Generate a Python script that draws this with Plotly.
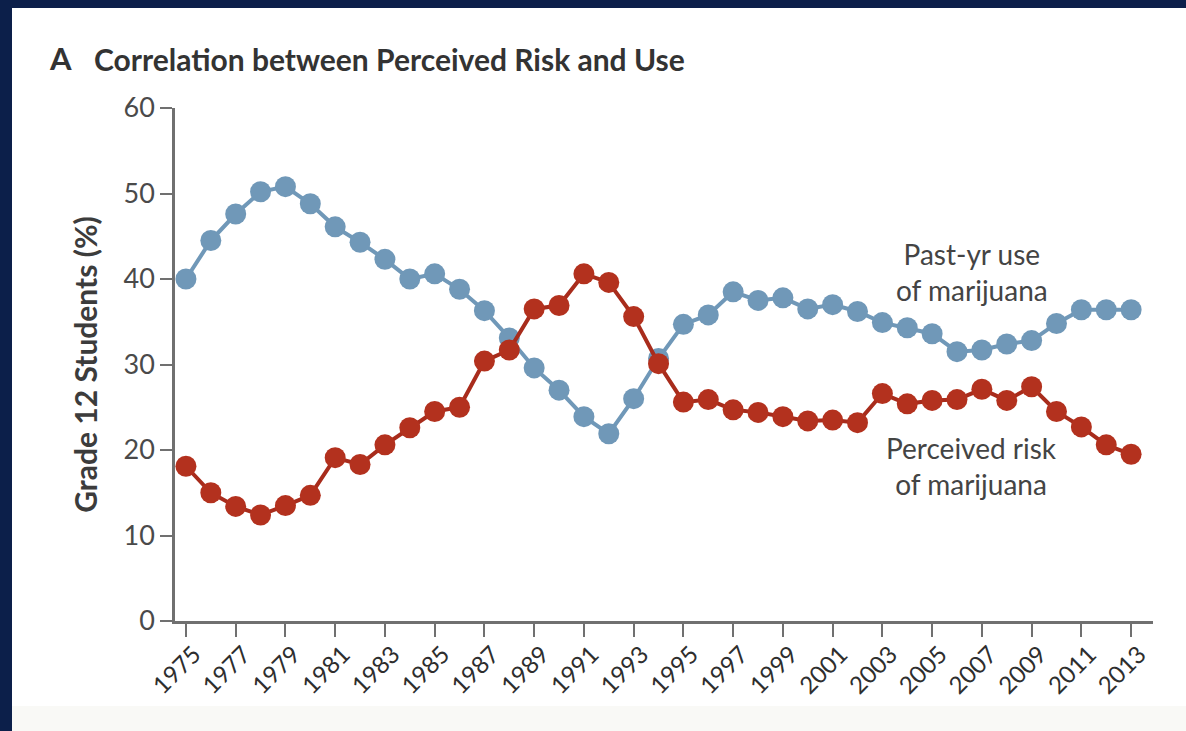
import plotly.graph_objects as go

years = list(range(1975, 2014))
past_year_use = [40.0, 44.5, 47.6, 50.2, 50.8, 48.8, 46.1, 44.3, 42.3, 40.0,
                 40.6, 38.8, 36.3, 33.1, 29.6, 27.0, 23.9, 21.9, 26.0, 30.7,
                 34.7, 35.8, 38.5, 37.5, 37.8, 36.5, 37.0, 36.2, 34.9, 34.3,
                 33.6, 31.5, 31.7, 32.4, 32.8, 34.8, 36.4, 36.4, 36.4]
perceived_risk = [18.1, 15.0, 13.4, 12.4, 13.5, 14.7, 19.1, 18.3, 20.6, 22.6,
                  24.5, 25.0, 30.4, 31.7, 36.5, 36.9, 40.6, 39.6, 35.6, 30.1,
                  25.6, 25.9, 24.7, 24.4, 23.9, 23.4, 23.5, 23.2, 26.6, 25.4,
                  25.8, 25.9, 27.1, 25.8, 27.4, 24.5, 22.7, 20.6, 19.5]
tick_years = list(range(1975, 2014, 2))
y_ticks = [0, 10, 20, 30, 40, 50, 60]

W, H = 1186, 731
L, R, T, B = 175, 1153, 108, 621
pw, ph = R - L, B - T

def px(x):
    return (x - L) / pw

def py(y):
    return (B - y) / ph

FONT = "Lato"
BLUE = "#7098b8"
RED = "#b3311e"

fig = go.Figure()
fig.add_trace(go.Scatter(
    x=years, y=past_year_use, mode="lines+markers",
    line=dict(color=BLUE, width=4),
    marker=dict(color=BLUE, size=21, line=dict(width=0)),
    cliponaxis=False, showlegend=False))
fig.add_trace(go.Scatter(
    x=years, y=perceived_risk, mode="lines+markers",
    line=dict(color="#a82c1c", width=4),
    marker=dict(color=RED, size=21, line=dict(width=0)),
    cliponaxis=False, showlegend=False))

axis_common = dict(showgrid=False, zeroline=False, showline=True,
                   linecolor="#707070", linewidth=2.5, ticks="outside",
                   tickcolor="#707070", tickwidth=2)

fig.update_xaxes(range=[1974.56, 2013.88], tickvals=tick_years,
                 ticktext=[str(y) for y in tick_years], tickangle=-45,
                 ticklen=13, ticklabelshift=8, ticklabelstandoff=-6,
                 tickfont=dict(family=FONT, size=24, color="#2e2e2e"),
                 **axis_common)
fig.update_yaxes(range=[0, 60], tickvals=y_ticks, ticklen=12,
                 tickfont=dict(family=FONT, size=27, color="#4a4a4a"),
                 title=dict(text="<b>Grade 12 Students (%)</b>",
                            font=dict(family=FONT, size=30, color="#3c3c3c"),
                            standoff=18),
                 **axis_common)

shapes = [
    dict(type="rect", xref="paper", yref="paper", x0=px(0), x1=px(12),
         y0=py(H), y1=py(0), fillcolor="#0c1f4a", line=dict(width=0), layer="above"),
    dict(type="rect", xref="paper", yref="paper", x0=px(0), x1=px(W),
         y0=py(8), y1=py(0), fillcolor="#0c1f4a", line=dict(width=0), layer="above"),
    dict(type="rect", xref="paper", yref="paper", x0=px(12), x1=px(W),
         y0=py(H), y1=py(706), fillcolor="#f9f9f6", line=dict(width=0), layer="below"),
]

annotations = [
    dict(text="<b>A</b>", x=px(47), y=py(58), xref="paper", yref="paper",
         xanchor="left", yanchor="middle", showarrow=False,
         font=dict(family=FONT, size=31, color="#333333")),
    dict(text="<b>Correlation between Perceived Risk and Use</b>", x=px(92), y=py(59),
         xref="paper", yref="paper", xanchor="left", yanchor="middle", showarrow=False,
         font=dict(family=FONT, size=30, color="#333333")),
    dict(text="Past-yr use<br>of marijuana", x=2006.6, y=py(272), xref="x", yref="paper",
         xanchor="center", yanchor="middle", showarrow=False, align="center",
         font=dict(family=FONT, size=28, color="#444444")),
    dict(text="Perceived risk<br>of marijuana", x=2006.6, y=py(466), xref="x", yref="paper",
         xanchor="center", yanchor="middle", showarrow=False, align="center",
         font=dict(family=FONT, size=28, color="#444444")),
]

fig.update_layout(
    width=W, height=H,
    margin=dict(l=L, r=W - R, t=T, b=H - B),
    paper_bgcolor="white", plot_bgcolor="white",
    shapes=shapes, annotations=annotations,
)

fig.write_html("out.html", config={"displayModeBar": False},
               post_script="document.body.style.margin='0px';")
